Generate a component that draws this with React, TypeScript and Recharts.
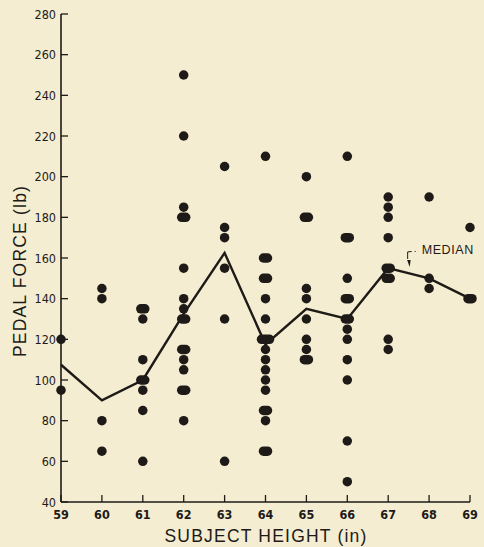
import { ComposedChart, Label, Line, ReferenceDot, Scatter, XAxis, YAxis } from 'recharts'

document.body.style.margin = '0'

const heights = [59, 60, 61, 62, 63, 64, 65, 66, 67, 68, 69]

// pedal force readings per subject height, repeats = overlapping dots
const forces: number[][] = [
  [120, 95],
  [145, 140, 80, 65],
  [135, 135, 130, 110, 100, 100, 95, 85, 60],
  [250, 220, 185, 180, 180, 155, 140, 135, 130, 130, 115, 115, 110, 105, 95, 95, 80],
  [205, 175, 170, 155, 130, 60],
  [210, 160, 160, 150, 150, 140, 130, 120, 120, 120, 115, 110, 105, 100, 95, 85, 85, 80, 65, 65],
  [200, 180, 180, 145, 140, 130, 120, 115, 110, 110],
  [210, 170, 170, 150, 140, 140, 130, 130, 125, 120, 110, 100, 70, 50],
  [190, 185, 180, 170, 155, 155, 150, 150, 120, 115],
  [190, 150, 145],
  [175, 140, 140],
]

const medians = [107.5, 90, 100, 132.5, 162.5, 117.5, 135, 130, 155, 150, 140]

const yTicks = [40, 60, 80, 100, 120, 140, 160, 180, 200, 220, 240, 260, 280]

const INK = '#1d1a17'
const BG = '#f4edd1'
const tickFont = "'DejaVu Sans Condensed', 'Liberation Sans Narrow', 'Liberation Sans', sans-serif"
const labelFont = "'Liberation Sans', 'DejaVu Sans', sans-serif"

const points = heights.flatMap((h, i) => {
  const counts = new Map<number, number>()
  forces[i].forEach((f) => counts.set(f, (counts.get(f) ?? 0) + 1))
  return [...counts.entries()].map(([f, n]) => ({ h, f, n }))
})

const medianData = heights.map((h, i) => ({ h, f: medians[i] }))

function Dot(props: any) {
  const { cx, cy, payload } = props
  const w = 9.5 + (payload.n - 1) * 4
  return <rect x={cx - w / 2} y={cy - 4.75} width={w} height={9.5} rx={4.75} fill={INK} />
}

function XTick(props: any) {
  const { x, y, payload } = props
  return (
    <g>
      <line x1={x} y1={y} x2={x} y2={y - 7} stroke={INK} strokeWidth={1.3} />
      <text x={x} y={y + 17} textAnchor="middle" fontSize={12.5} fontFamily={tickFont} fontWeight="bold" fill={INK}>
        {payload.value}
      </text>
    </g>
  )
}

function YTick(props: any) {
  const { x, y, payload } = props
  return (
    <g>
      <line x1={x} y1={y} x2={x + 7} y2={y} stroke={INK} strokeWidth={1.3} />
      <text x={x - 5} y={y + 4.5} textAnchor="end" fontSize={12.5} fontFamily={tickFont} fill={INK}>
        {payload.value}
      </text>
    </g>
  )
}

function MedianNote(props: any) {
  const { cx, cy } = props
  return (
    <g>
      <path d={`M${cx - 1} ${cy - 8} L${cx - 1} ${cy - 15} L${cx + 3} ${cy - 15.5}`} stroke={INK} strokeWidth={1} fill="none" />
      <path d={`M${cx + 6} ${cy - 15.5} L${cx + 9} ${cy - 15.5}`} stroke={INK} strokeWidth={1} strokeDasharray="1 2" />
      <path d={`M${cx - 1.5} ${cy - 7} L${cx + 2} ${cy - 7} L${cx + 1} ${cy}`} fill={INK} />
      <text x={cx + 13} y={cy - 13} fontSize={12.5} letterSpacing={0.6} fontFamily={labelFont} fill={INK}>
        MEDIAN
      </text>
    </g>
  )
}

export default function App() {
  return (
    <div style={{ width: 484, height: 547, background: BG }}>
      <ComposedChart width={484} height={547} margin={{ top: 14, right: 14, bottom: 0, left: 0 }}>
        <XAxis
          type="number"
          dataKey="h"
          domain={[59, 69]}
          ticks={heights}
          height={45}
          tickSize={0}
          tickMargin={0}
          tick={<XTick />}
          axisLine={{ stroke: INK, strokeWidth: 1.6 }}
        >
          <Label
            content={() => (
              <text x={266} y={542} textAnchor="middle" fontSize={17.5} letterSpacing={1.2} fontFamily={labelFont} fill={INK}>
                SUBJECT HEIGHT (in)
              </text>
            )}
          />
        </XAxis>
        <YAxis
          type="number"
          dataKey="f"
          domain={[40, 280]}
          ticks={yTicks}
          width={61}
          tickSize={0}
          tickMargin={0}
          tick={<YTick />}
          axisLine={{ stroke: INK, strokeWidth: 1.6 }}
        >
          <Label
            content={() => (
              <text
                x={26}
                y={271}
                transform="rotate(-90 26 271)"
                textAnchor="middle"
                fontSize={17.5}
                letterSpacing={1.2}
                fontFamily={labelFont}
                fill={INK}
              >
                PEDAL FORCE (lb)
              </text>
            )}
          />
        </YAxis>
        <Scatter data={points} dataKey="f" shape={<Dot />} isAnimationActive={false} />
        <Line
          data={medianData}
          dataKey="f"
          type="linear"
          stroke={INK}
          strokeWidth={2.4}
          dot={false}
          activeDot={false}
          isAnimationActive={false}
        />
        <ReferenceDot x={67.5} y={155.6} r={0} shape={<MedianNote />} />
      </ComposedChart>
    </div>
  )
}
